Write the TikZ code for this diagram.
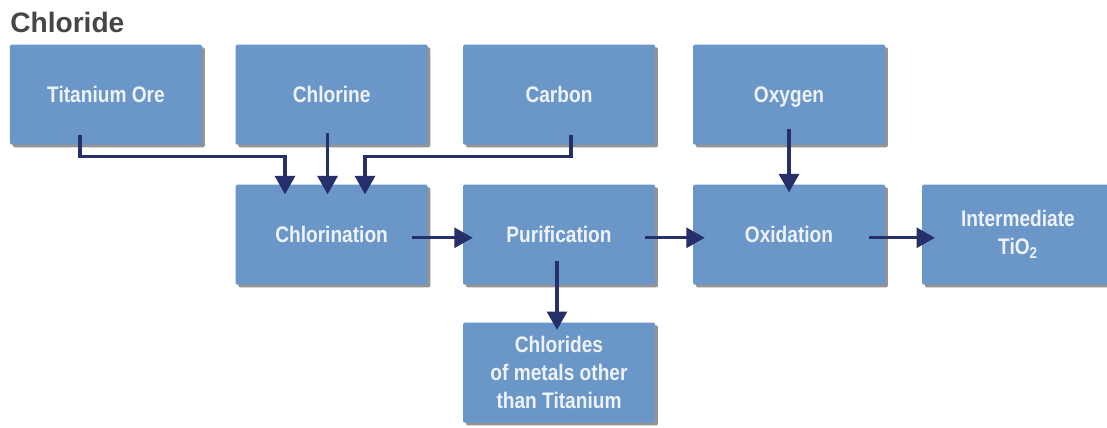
\documentclass[tikz,border=0pt]{standalone}
\usepackage{fontspec}
\setmainfont{Liberation Sans}
\newfontfamily\boxfont{Liberation Sans}[FakeStretch=0.85]
\usetikzlibrary{arrows.meta,shadows}
\definecolor{boxblue}{RGB}{106,150,200}
\definecolor{boxtext}{RGB}{238,243,251}
\definecolor{arrowblue}{RGB}{37,48,106}
\definecolor{titlegray}{RGB}{70,70,70}
\begin{document}
\begin{tikzpicture}[
        stage/.style={fill=boxblue, minimum width=4.8cm, minimum height=2.5cm,
            rounded corners=1pt, inner sep=0pt, text=boxtext, align=center,
            font=\boxfont\bfseries\fontsize{16}{20}\selectfont,
            drop shadow={shadow xshift=0.07cm, shadow yshift=-0.07cm, fill=black!60, opacity=0.7}},
        flow/.style={draw=arrowblue, line width=2.2pt, -{Triangle[width=0.5cm,length=0.46cm]}}
    ]
            % page frame
            \clip (0,0) rectangle (27.675,10.675);

            % title
            \node[anchor=base west, inner sep=0pt, text=titlegray,
                font=\bfseries\fontsize{20}{22}\selectfont] (title) at (0.25,9.85) {Chloride};

            % inputs
            \node[stage] (ore) at (2.65,8.31) {Titanium Ore};
            \node[stage] (chlorine) at (8.29,8.31) {Chlorine};
            \node[stage] (carbon) at (13.975,8.31) {Carbon};
            \node[stage, text depth=0pt] (oxygen) at (19.725,8.31) {Oxygen};

            % process steps
            \node[stage] (chlorination) at (8.29,4.81) {Chlorination};
            \node[stage] (purification) at (13.975,4.81) {Purification};
            \node[stage] (oxidation) at (19.725,4.81) {Oxidation};
            \node[stage] (tio2) at (25.45,4.81) {Intermediate\\TiO\textsubscript{2}};

            % by-product
            \node[stage] (othermetals) at (13.975,1.36) {Chlorides\\of metals other\\than Titanium};

            % feeds into chlorination
            \draw[flow] ([xshift=-0.65cm,yshift=0.25cm]ore.south) |- ([xshift=-1.165cm,yshift=0.7cm]chlorination.north)
                -- ([xshift=-1.165cm,yshift=-0.25cm]chlorination.north);
            \draw[flow] ([xshift=-0.1cm,yshift=0.3cm]chlorine.south) -- ([xshift=-0.1cm,yshift=-0.25cm]chlorination.north);
            \draw[flow] ([xshift=0.3cm,yshift=0.25cm]carbon.south) |- ([xshift=0.835cm,yshift=0.7cm]chlorination.north)
                -- ([xshift=0.835cm,yshift=-0.25cm]chlorination.north);

            % oxygen feed
            \draw[flow] ([yshift=0.4cm]oxygen.south) -- ([yshift=-0.2cm]oxidation.north);

            % main line
            \draw[flow] ([xshift=-0.4cm,yshift=-0.08cm]chlorination.east) -- ([xshift=0.25cm,yshift=-0.08cm]purification.west);
            \draw[flow] ([xshift=-0.25cm,yshift=-0.08cm]purification.east) -- ([xshift=0.3cm,yshift=-0.08cm]oxidation.west);
            \draw[flow] ([xshift=-0.4cm,yshift=-0.08cm]oxidation.east) -- ([xshift=0.33cm,yshift=-0.08cm]tio2.west);

            % side product
            \draw[flow] ([xshift=-0.05cm,yshift=0.6cm]purification.south) -- ([xshift=-0.05cm,yshift=-0.19cm]othermetals.north);
\end{tikzpicture}
\end{document}
